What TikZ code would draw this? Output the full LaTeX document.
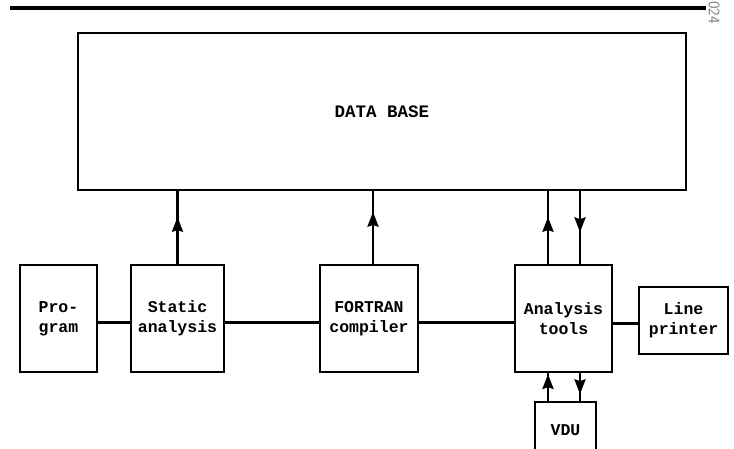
\documentclass[tikz,border=0pt]{standalone}
\usepackage{fontspec}
\setmonofont{Liberation Mono}
\usetikzlibrary{arrows.meta,decorations.markings}
\begin{document}
\begin{tikzpicture}[x=1pt,y=-1pt,
  box/.style={draw,line width=2.6pt,inner sep=0pt,align=center,
    font=\ttfamily\bfseries\fontsize{16.5}{20}\selectfont},
  conn/.style={line width=2.2pt},
  midarrow/.style={conn,postaction={decorate},
    decoration={markings,mark=at position #1 with {\fill (1pt,0pt) -- (-14pt,5.8pt) -- (-12pt,0pt) -- (-14pt,-5.8pt) -- cycle;}}}
]
\clip (0,0) rectangle (734,448);
\useasboundingbox (0,0) rectangle (734,448);

% top rule and page number fragment
\coordinate (ruleL) at (10,8);
\coordinate (ruleR) at (706,8);
\draw[line width=4pt] (ruleL) -- (ruleR);
\node[rotate=-90,text=gray,font=\sffamily\fontsize{16}{16}\selectfont,inner sep=0pt,anchor=west] (pg) at (714,1) {024};

% boxes
\node[box,minimum width=608pt,minimum height=157pt,
  font=\ttfamily\bfseries\fontsize{17.5}{20}\selectfont] (db) at (382,111.5) {DATA BASE};
\node[box,minimum width=77pt,minimum height=107pt] (prog) at (58.5,318.5) {Pro-\\gram};
\node[box,minimum width=93pt,minimum height=107pt] (stat) at (177.5,318.5) {Static\\analysis};
\node[box,minimum width=98pt,minimum height=107pt] (fort) at (369,318.5) {FORTRAN\\compiler};
\node[box,minimum width=97pt,minimum height=107pt] (anal) at (563.5,318.5) {Analysis\\tools};
\node[box,minimum width=89pt,minimum height=67pt] (lp) at (683.5,320.5) {Line\\printer};
\node[box,minimum width=61pt,minimum height=56pt] (vdu) at (565.5,430) {VDU};

% horizontal connectors
\draw[conn] ([yshift=-4pt]prog.east) -- ([yshift=-4pt]stat.west);
\draw[conn] ([yshift=-4pt]stat.east) -- ([yshift=-4pt]fort.west);
\draw[conn] ([yshift=-4pt]fort.east) -- ([yshift=-4pt]anal.west);
\draw[conn] ([yshift=-5pt]anal.east) -- ([yshift=-5pt]anal.east -| lp.west);

% vertical arrows to/from data base
\draw[midarrow=0.63] (stat.north) -- (stat.north |- db.south);
\draw[midarrow=0.70] ([xshift=4pt]fort.north) -- ([xshift=4pt]fort.north |- db.south);
\draw[midarrow=0.63] ([xshift=-15.5pt]anal.north) -- ([xshift=-15.5pt]anal.north |- db.south);
\draw[midarrow=0.55] ([xshift=16.5pt]anal.north |- db.south) -- ([xshift=16.5pt]anal.north);

% VDU arrows
\draw[midarrow=0.93] ([xshift=-15.5pt]anal.south |- vdu.north) -- ([xshift=-15.5pt]anal.south);
\draw[midarrow=0.72] ([xshift=16.5pt]anal.south) -- ([xshift=16.5pt]anal.south |- vdu.north);
\end{tikzpicture}
\end{document}
